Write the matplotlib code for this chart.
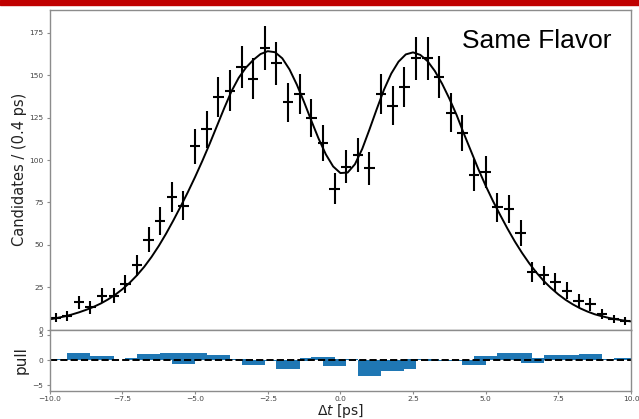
import numpy as np
import matplotlib
matplotlib.use("Agg")
import matplotlib.pyplot as plt
from matplotlib.patches import Rectangle

# binned decay-time difference, 50 bins of 0.4 ps
bin_centers = np.arange(-9.8, 10.0, 0.4)
counts = [7, 8, 16, 13, 20, 20, 27, 38, 53, 64,
          78, 73, 108, 118, 137, 141, 155, 148, 166, 157,
          134, 139, 125, 110, 83, 96, 103, 95, 139, 132,
          143, 160, 160, 149, 128, 116, 91, 93, 72, 71,
          57, 34, 32, 28, 23, 17, 15, 9, 6, 5]

# fitted pdf sampled every 0.25 ps
t_fit = np.linspace(-10, 10, 81)
fit_vals = [6.0, 6.8, 7.7, 8.8, 10.1, 11.6, 13.3, 15.3, 17.7, 20.5,
            23.8, 27.6, 32.0, 37.0, 42.8, 49.3, 56.5, 64.3, 72.5, 81.0,
            90.0, 99.5, 109.5, 120.0, 130.5, 140.5, 148.5, 154.5, 159.0, 162.5,
            164.2, 163.6, 160.0, 153.4, 144.5, 134.2, 123.2, 112.6, 103.3, 96.2,
            92.3,
            92.6, 97.5, 106.5, 118.0, 130.0, 141.5, 151.0, 158.0, 162.3, 163.5,
            162.0, 158.3, 152.5, 145.0, 136.2, 126.5, 115.5, 105.0, 94.5, 84.8,
            75.8, 67.5, 59.5, 52.0, 45.2, 39.0, 33.5, 28.6, 24.4, 20.7,
            17.5, 14.8, 12.5, 10.6, 9.0, 7.8, 6.8, 6.0, 5.3, 4.8]

# pull per bin
pulls = [0.27, 0.05, 1.33, 0.0, 0.8, -0.05, 0.0, 0.47, 1.2, 1.1,
         1.33, -0.73, 1.33, 0.75, 0.93, 0.15, 0.2, -1.07, -0.05, -0.1,
         -1.73, -0.1, 0.4, 0.6, -1.1, 0.1, 0.05, -3.07, -0.1, -2.07,
         -1.73, 0.15, 0.2, -0.1, -0.27, 0.05, -1.07, 0.73, 0.1, 1.47,
         1.33, -0.53, 0.47, 1.07, 1.07, 0.6, 1.13, 0.1, 0.05, 0.33]

W, H = 639, 419
fig = plt.figure(figsize=(W / 100, H / 100), dpi=100)

left, right = 49.8 / W, 631 / W
split = (H - 329.5) / H
ax = fig.add_axes([left, split, right - left, (H - 10) / H - split])
ax2 = fig.add_axes([left, (H - 390.5) / H, right - left, split - (H - 390.5) / H], sharex=ax)

spine_col = "#8c8c8c"
for a in (ax, ax2):
    for s in a.spines.values():
        s.set_color(spine_col)
        s.set_linewidth(1.0)
    a.tick_params(colors=spine_col, labelcolor="#444444", labelsize=5.4,
                  length=2.5, width=0.8, pad=2)

ax.errorbar(bin_centers, counts, yerr=np.sqrt(counts), xerr=0.18,
            fmt="none", ecolor="black", elinewidth=1.5, capsize=0)
ax.plot(t_fit, fit_vals, color="black", lw=1.4)
ax.set_xlim(-10, 10)
ax.set_ylim(0, 188.5)
ax.set_yticks(np.arange(0, 176, 25))
ax.tick_params(axis="x", bottom=False, labelbottom=False)
ax.set_ylabel("Candidates / (0.4 ps)", fontsize=10.5, color="#222222")
ax.yaxis.set_label_coords(-0.039, 0.5)

ax2.bar(bin_centers, pulls, width=0.8, color="#1f77b4")
ax2.axhline(0, color="black", ls="--", lw=1.4)
ax2.set_ylim(-6, 6)
ax2.set_yticks([-5, 0, 5])
ax2.set_xticks(np.arange(-10, 10.1, 2.5))
ax2.tick_params(axis="x", pad=1.2)
ax2.set_ylabel("pull", fontsize=11, color="#222222")
ax2.yaxis.set_label_coords(-0.036, 0.5)
ax2.set_xlabel(r"$\Delta t$ [ps]", fontsize=10, color="#222222", labelpad=0)

fig.text(461.5 / W, (H - 48.3) / H, "Same Flavor", fontsize=19,
         family="Liberation Sans", va="baseline", ha="left")

fig.patches.append(Rectangle((0, 1 - 5 / H), 1, 5 / H, transform=fig.transFigure,
                             color="#c00000", zorder=10))

fig.savefig("out.png", dpi=100)
